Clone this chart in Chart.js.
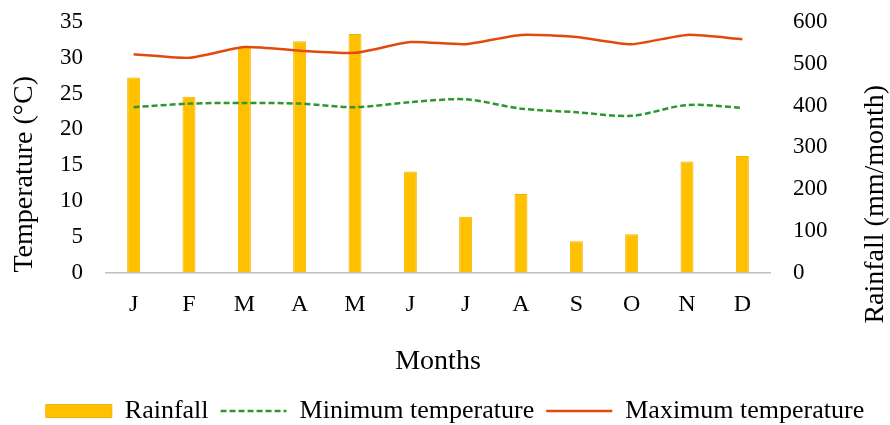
<!DOCTYPE html>
<html><head><meta charset="utf-8">
<script src="https://cdn.jsdelivr.net/npm/chart.js@4/dist/chart.umd.min.js"></script>
<style>html,body{margin:0;padding:0;background:#fff}canvas{display:block}</style>
</head><body>
<canvas id="c" width="890" height="425"></canvas>
<script>
const months = ['J','F','M','A','M','J','J','A','S','O','N','D'];
const rainfall = [467, 421, 540, 554, 571, 242, 134, 188, 75, 92, 266, 279];
const minTemp = [23.1, 23.6, 23.7, 23.6, 23.1, 23.8, 24.2, 22.9, 22.4, 21.9, 23.4, 23.0];
const maxTemp = [30.5, 30.0, 31.5, 31.0, 30.7, 32.2, 31.9, 33.2, 32.9, 31.9, 33.2, 32.6];
const leftTitle = 'Temperature (°C)';
const rightTitle = 'Rainfall (mm/month)';
const xTitle = 'Months';

const SERIF = "'Liberation Serif', 'Times New Roman', serif";

const rightTitlePlugin = {
  id: 'rightTitle',
  afterDraw(chart) {
    const s = chart.scales.y1;
    const ctx = chart.ctx;
    ctx.save();
    ctx.font = '28px ' + SERIF;
    ctx.fillStyle = '#000';
    ctx.textAlign = 'left';
    ctx.textBaseline = 'middle';
    ctx.translate(s.left + 106, s.bottom + 51);
    ctx.rotate(-Math.PI / 2);
    ctx.fillText(rightTitle, 0, 0);
    ctx.restore();
  }
};

new Chart(document.getElementById('c'), {
  data: {
    labels: months,
    datasets: [
      {
        type: 'bar', label: 'Rainfall', data: rainfall, yAxisID: 'y1', order: 1,
        backgroundColor: '#FFC000', borderColor: '#F3B300', borderWidth: 1,
        categoryPercentage: 1, barPercentage: 0.235, pointStyle: 'rect'
      },
      {
        type: 'line', label: 'Minimum temperature', data: minTemp, yAxisID: 'y', order: 0,
        borderColor: '#2E962E', backgroundColor: '#2E962E', borderWidth: 2.5, borderDash: [6, 3],
        pointRadius: 0, tension: 0.3, pointStyle: 'line'
      },
      {
        type: 'line', label: 'Maximum temperature', data: maxTemp, yAxisID: 'y', order: 0,
        borderColor: '#E2490F', backgroundColor: '#E2490F', borderWidth: 2.5,
        pointRadius: 0, tension: 0.2, pointStyle: 'line'
      }
    ]
  },
  options: {
    responsive: false,
    animation: false,
    layout: { padding: { top: 22, left: 0, right: -20, bottom: -9 } },
    plugins: {
      tooltip: { enabled: false },
      legend: {
        position: 'bottom',
        labels: {
          font: { family: SERIF, size: 26 },
          color: '#000',
          usePointStyle: true,
          pointStyleWidth: 66,
          boxHeight: 13,
          padding: 12,
          sort: (a, b) => a.datasetIndex - b.datasetIndex,
          generateLabels(chart) {
            const items = Chart.defaults.plugins.legend.labels.generateLabels(chart);
            items.forEach(it => {
              const ds = chart.data.datasets[it.datasetIndex];
              if (ds.type === 'line') {
                it.lineWidth = ds.borderWidth;
                it.lineDash = ds.borderDash || [];
                it.strokeStyle = ds.borderColor;
              }
            });
            return items;
          }
        }
      }
    },
    scales: {
      x: {
        grid: { display: false, drawTicks: false },
        border: { display: true, color: '#BFBFBF', width: 1.5 },
        ticks: { font: { family: SERIF, size: 24 }, color: '#000', padding: 18 },
        title: { display: true, text: xTitle, font: { family: SERIF, size: 28 }, color: '#000', padding: { top: 7, bottom: 8 } }
      },
      y: {
        position: 'left', min: 0, max: 35,
        grid: { display: false, drawTicks: true, tickLength: 23 },
        border: { display: false },
        ticks: { stepSize: 5, font: { family: SERIF, size: 23 }, color: '#000', padding: 0 },
        title: { display: true, text: leftTitle, align: 'start', font: { family: SERIF, size: 28 }, color: '#000', padding: { top: 8, bottom: 0 } },
        afterFit(scale) { scale.width = 106; }
      },
      y1: {
        position: 'right', min: 0, max: 600,
        grid: { display: false, drawTicks: true, tickLength: 23 },
        border: { display: false },
        ticks: { stepSize: 100, font: { family: SERIF, size: 23 }, color: '#000', padding: 0 },
        afterFit(scale) { scale.width = 140; }
      }
    }
  },
  plugins: [rightTitlePlugin]
});
</script>
</body></html>
